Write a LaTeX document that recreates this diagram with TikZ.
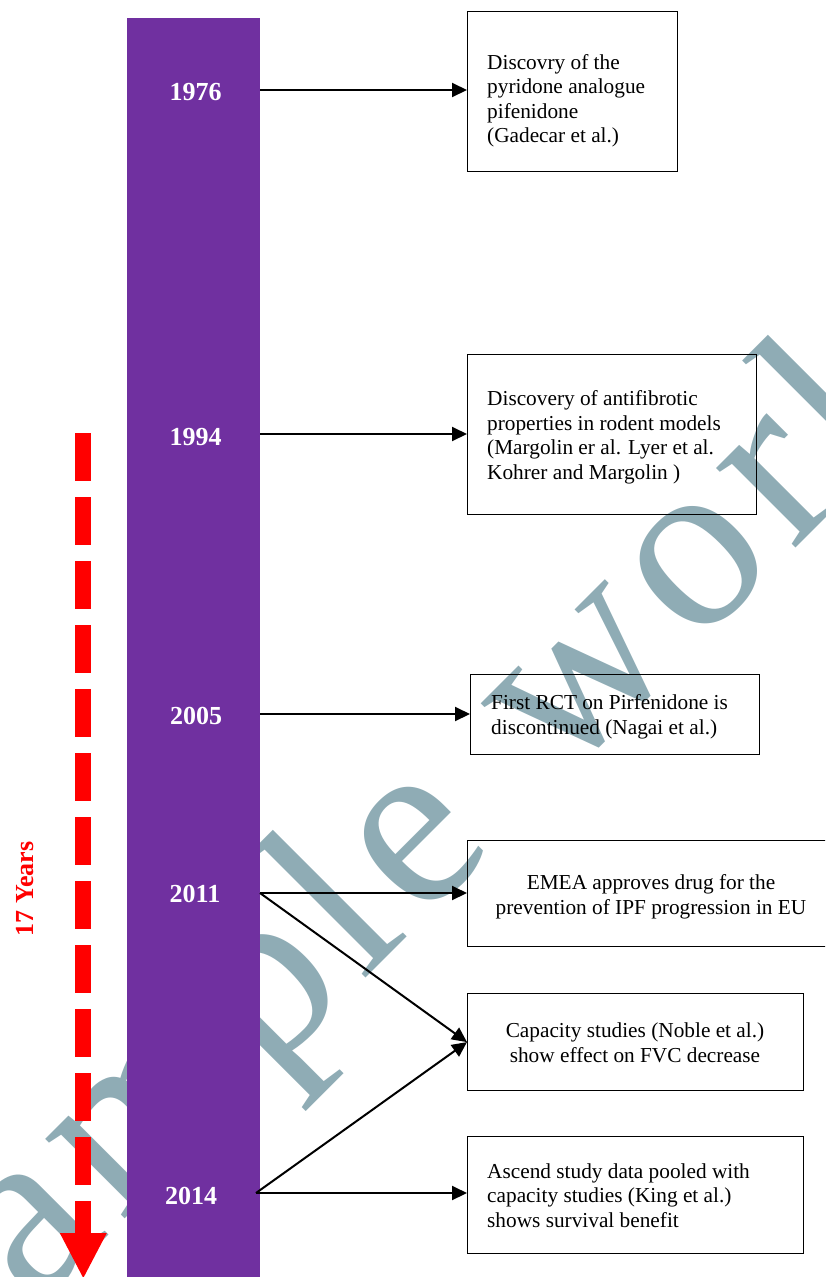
\documentclass[tikz,border=0pt]{standalone}
\usepackage{fontspec}
\setmainfont{Liberation Serif}
\usetikzlibrary{arrows.meta}
\definecolor{barpurple}{HTML}{7030A0}
\definecolor{wmcol}{HTML}{8FACB5}
\newcommand{\wmgap}{\hspace{14pt}}
\begin{document}
\begin{tikzpicture}[x=1pt,y=-1pt,
  evbox/.style={draw=black, line width=1.2pt, inner sep=0pt, anchor=north west},
  evtext/.style={inner sep=0pt, font=\fontsize{21.3}{24.5}\selectfont},
  yearlbl/.style={inner sep=0pt, anchor=base, text=white, font=\bfseries\fontsize{26}{30}\selectfont},
  link/.style={line width=2pt, -{Triangle[length=15pt,width=14pt]}}
]
\clip (0,0) rectangle (825,1277);
% watermark
\node[rotate=45, anchor=base, inner sep=0pt, text=wmcol, font=\fontsize{245}{245}\selectfont] (wm) at (437.6,906.5)
  {S\wmgap a\wmgap m\wmgap p\wmgap l\wmgap e\wmgap\ \wmgap w\wmgap o\wmgap r\wmgap k};
% timeline bar
\fill[barpurple] (127,18) rectangle (260,1285);
% year labels
\node[yearlbl] (y1976) at (195.5,100) {1976};
\node[yearlbl] (y1994) at (195.5,445.7) {1994};
\node[yearlbl] (y2005) at (196,724) {2005};
\node[yearlbl] (y2011) at (195,902.7) {2011};
\node[yearlbl] (y2014) at (191,1204) {2014};
% event boxes
\node[evbox, minimum width=210pt, minimum height=160pt] (b1) at (467,11) {};
\node[evbox, minimum width=289pt, minimum height=160pt] (b2) at (467,354) {};
\node[evbox, minimum width=289pt, minimum height=80pt] (b3) at (470,674) {};
\node[evbox, minimum width=370pt, minimum height=106pt] (b4) at (467,840) {};
\node[evbox, minimum width=336pt, minimum height=97pt] (b5) at (467,993) {};
\node[evbox, minimum width=336pt, minimum height=117pt] (b6) at (467,1136) {};
% event texts (anchored at the baseline of the last line)
\node[evtext, anchor=base west, align=left] (t1) at (487,142.7) {Discovry of the\\pyridone analogue\\pifenidone\\(Gadecar et al.)};
\node[evtext, anchor=base west, align=left] (t2) at (487,479) {Discovery of antifibrotic\\properties in rodent models\\(Margolin er al. Lyer et al.\\Kohrer and Margolin )};
\node[evtext, anchor=base west, align=left] (t3) at (491,734) {First RCT on Pirfenidone is\\discontinued (Nagai et al.)};
\node[evtext, anchor=base, align=center] (t4) at (651,914) {EMEA approves drug for the\\prevention of IPF progression in EU};
\node[evtext, anchor=base, align=center] (t5) at (635,1062) {Capacity studies (Noble et al.)\\show effect on FVC decrease};
\node[evtext, anchor=base west, align=left] (t6) at (487,1227) {Ascend study data pooled with\\capacity studies (King et al.)\\shows survival benefit};
% arrow start points on bar edge
\coordinate (s1976) at (260,90);
\coordinate (s1994) at (260,434);
\coordinate (s2005) at (260,714);
\coordinate (s2011) at (260,893);
\coordinate (s2014) at (256,1193);
\draw[link] (s1976) -- (s1976 -| b1.west);
\draw[link] (s1994) -- (s1994 -| b2.west);
\draw[link] (s2005) -- (s2005 -| b3.west);
\draw[link] (s2011) -- (s2011 -| b4.west);
\draw[link] (s2011) -- (b5.west);
\draw[link] (s2014) -- (b5.west);
\draw[link] (s2014) -- (s2014 -| b6.west);
% red span arrow
\coordinate (rtop) at (83.3,433);
\coordinate (rhead) at (83.3,1233);
\coordinate (rtip) at (83.3,1278);
\draw[red, line width=16pt, dash pattern=on 48pt off 16pt] (rtop) -- (rhead);
\fill[red] (59.8,1233) -- (106.8,1233) -- (rtip) -- cycle;
\node[rotate=90, inner sep=0pt, text=red, font=\bfseries\fontsize{26}{30}\selectfont] (years) at (25,889) {17 Years};
\end{tikzpicture}
\end{document}
